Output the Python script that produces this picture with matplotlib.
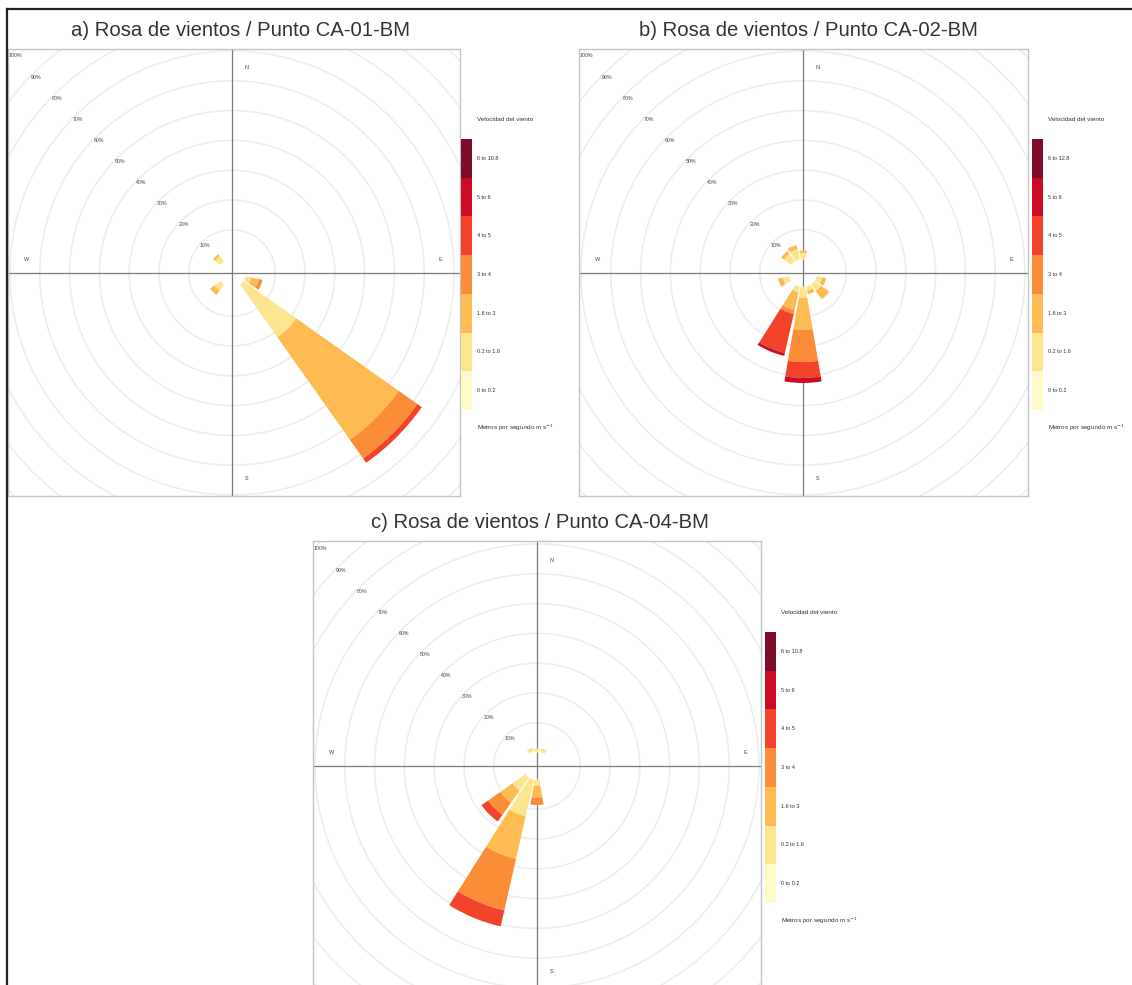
import numpy as np
import matplotlib.pyplot as plt
from matplotlib.patches import Wedge, Circle
from matplotlib.lines import Line2D

plt.rcParams['font.family'] = ['Liberation Sans', 'DejaVu Sans']

W, H = 1132, 985
PX = 2.98      # pixels per percent on the rose
HOLE = 4.5     # empty centre, in percent units
HALF = 9.75    # half width of a direction sector, degrees

compass = {"N": 0, "NNE": 22.5, "NE": 45, "ENE": 67.5, "E": 90, "ESE": 112.5,
           "SE": 135, "SSE": 157.5, "S": 180, "SSW": 202.5, "SW": 225,
           "WSW": 247.5, "W": 270, "WNW": 292.5, "NW": 315, "NNW": 337.5}

colors = ["#FFFBC8", "#FDE48E", "#FDBB52", "#FB8C38", "#F2432A", "#CC0A24", "#7E0A2C"]
ring_pcts = [10, 20, 30, 40, 50, 60, 70, 80, 90, 100]

speeds_a = ["0 to 0.2", "0.2 to 1.6", "1.6 to 3", "3 to 4", "4 to 5", "5 to 6", "6 to 10.8"]
speeds_b = ["0 to 0.2", "0.2 to 1.6", "1.6 to 3", "3 to 4", "4 to 5", "5 to 6", "6 to 12.8"]
speeds_c = ["0 to 0.2", "0.2 to 1.6", "1.6 to 3", "3 to 4", "4 to 5", "5 to 6", "6 to 10.8"]

# percent of time per direction, one value per speed class
a_dirs = ["SE", "ESE", "NW", "SW"]
a_pct = [[0.3, 21.6, 42.1, 7.7, 1.8, 0, 0],
         [0.3, 1.8, 2.6, 1.3, 0, 0, 0],
         [0.3, 2.2, 0.8, 0, 0, 0, 0],
         [0.3, 2.4, 1.8, 0, 0, 0, 0]]

b_dirs = ["S", "SSW", "SE", "ESE", "NW", "NNW", "N", "WSW", "SSE"]
b_pct = [[0.3, 3.6, 10.7, 10.8, 5.3, 1.7, 0],
         [0.2, 2.0, 6.1, 1.3, 13.4, 1.0, 0],
         [0.3, 2.6, 3.4, 0, 0, 0, 0],
         [0.3, 1.8, 1.4, 0, 0, 0, 0],
         [0.3, 3.0, 1.2, 0, 0, 0, 0],
         [0.3, 3.4, 1.4, 0, 0, 0, 0],
         [0.3, 2.0, 0.8, 0, 0, 0, 0],
         [0.3, 2.2, 1.6, 0, 0, 0, 0],
         [0.2, 1.4, 1.2, 0, 0, 0, 0]]

c_dirs = ["SSW", "SW", "S", "NNW", "NNE", "N"]
c_pct = [[0.3, 12.5, 14.7, 17.7, 5.5, 0, 0],
         [0.2, 5.4, 5.0, 5.0, 2.7, 0, 0],
         [0.2, 2.0, 4.0, 2.4, 0, 0, 0],
         [0.6, 1.2, 0, 0, 0, 0, 0],
         [0.6, 1.0, 0, 0, 0, 0, 0],
         [0.5, 0.8, 0, 0, 0, 0, 0]]


def fig_rect(x0, y0, x1, y1):
    return [x0 / W, 1 - y1 / H, (x1 - x0) / W, (y1 - y0) / H]


def rose(fig, box, centre, dirs, pct, title, title_xy):
    x0, y0, x1, y1 = box
    cx, cy = centre
    ax = fig.add_axes(fig_rect(x0, y0, x1, y1))
    ax.set_xlim((x0 - cx) / PX, (x1 - cx) / PX)
    ax.set_ylim((cy - y1) / PX, (cy - y0) / PX)
    ax.set_xticks([])
    ax.set_yticks([])
    for sp in ax.spines.values():
        sp.set_color("#C4C4C4")
        sp.set_linewidth(1.0)

    for p in ring_pcts:
        r = HOLE + p
        ax.add_patch(Circle((0, 0), r, fill=False, ec="#EDEDED", lw=1.2, zorder=1))
        d = (r - 1.5) / np.sqrt(2)
        ax.text(-d, d, f"{p}%", fontsize=3.8, color="#444444",
                ha="center", va="center", zorder=4)

    ax.axhline(0, color="#7A7A7A", lw=0.9, zorder=2)
    ax.axvline(0, color="#7A7A7A", lw=0.9, zorder=2)
    for lab, (tx, ty) in zip("NESW", [(5, 69), (70, 4.5), (5, -69), (-69, 4.5)]):
        ax.text(tx, ty, lab, fontsize=4, color="#444444", ha="center", va="center")

    for d, vals in zip(dirs, pct):
        bearing = compass[d]
        t1 = 90 - bearing - HALF
        t2 = 90 - bearing + HALF
        cum = np.cumsum(vals)
        for k, v in enumerate(vals):
            if v <= 0:
                continue
            ax.add_patch(Wedge((0, 0), HOLE + cum[k], t1, t2, width=v,
                               fc=colors[k], ec="none", zorder=3))

    fig.text(title_xy[0] / W, 1 - title_xy[1] / H, title, fontsize=14.6,
             color="#333333", ha="center", va="center")
    return ax


def legend(fig, x0, y0, labels):
    # colour key of the speed classes, 7 stacked boxes
    lg = fig.add_axes(fig_rect(x0, y0, x0 + 11, y0 + 271))
    for i, c in enumerate(colors):
        lg.bar(0, 1, width=1, bottom=i, color=c, align="edge")
        lg.text(1.45, i + 0.5, labels[i], fontsize=4, color="#333333",
                ha="left", va="center", clip_on=False)
    lg.set_xlim(0, 1)
    lg.set_ylim(0, 7)
    lg.axis("off")
    lg.text(1.45, 7.5, "Velocidad del viento", fontsize=4.6, color="#333333",
            ha="left", va="center", clip_on=False)
    lg.text(1.45, -0.47, "Metros por segundo m s$^{-1}$", fontsize=4.6,
            color="#333333", ha="left", va="center", clip_on=False)


fig = plt.figure(figsize=(W / 100, H / 100), dpi=100)

rose(fig, (8, 49, 460, 496), (232, 273), a_dirs, a_pct,
     "a) Rosa de vientos / Punto CA-01-BM", (241, 30))
legend(fig, 461, 139, speeds_a)

rose(fig, (579, 49, 1028, 496), (803, 273), b_dirs, b_pct,
     "b) Rosa de vientos / Punto CA-02-BM", (808, 30))
legend(fig, 1032, 139, speeds_b)

rose(fig, (313, 541, 761, 991), (537, 766), c_dirs, c_pct,
     "c) Rosa de vientos / Punto CA-04-BM", (540, 523))
legend(fig, 765, 632, speeds_c)

# outer frame, only left and top edges are inside the picture
fig.add_artist(Line2D([7 / W, 7 / W], [0, 1 - 9 / H], color="#222222", lw=1.6))
fig.add_artist(Line2D([7 / W, 1], [1 - 9 / H, 1 - 9 / H], color="#222222", lw=1.6))

fig.savefig("out.png", dpi=100)
